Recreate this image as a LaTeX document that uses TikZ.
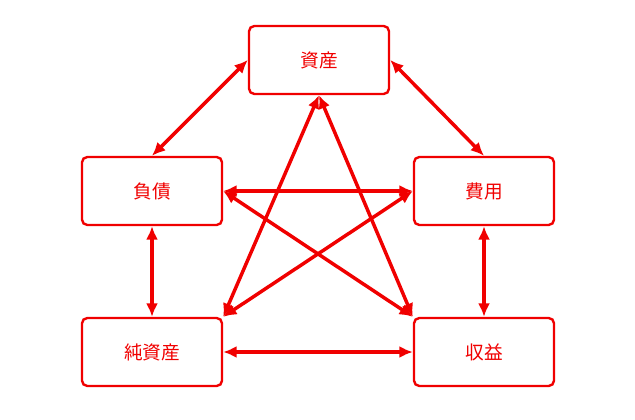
\documentclass[tikz,border=0pt]{standalone}
\usepackage{fontspec}
\setmainfont{Noto Sans CJK JP}
\usetikzlibrary{arrows.meta}
\definecolor{acred}{RGB}{240,0,0}
\begin{document}
\begin{tikzpicture}[x=0.75pt,y=-0.75pt]
        \tikzstyle{account} = [rectangle, rounded corners=4pt, draw=acred, line width=1.8pt, text=acred, font=\fontsize{14}{16}\selectfont, minimum width=105pt, minimum height=51pt]
        \tikzstyle{line} = [{Latex[length=10pt,width=9pt]}-{Latex[length=10pt,width=9pt]},draw=acred,line width=2.6pt]
        \useasboundingbox (0,0) rectangle (635,420);
        \node[account] (asset) at (319,60) {資産};
        \node[account] (liab) at (152,191) {負債};
        \node[account] (exp) at (484,191) {費用};
        \node[account] (equity) at (152,352) {純資産};
        \node[account] (rev) at (484,352) {収益};
        \draw[line] (asset.west) to (liab.north);
        \draw[line] (asset.east) to (exp.north);
        \draw[line] (liab.east) to (exp.west);
        \draw[line] (liab.south) to (equity.north);
        \draw[line] (exp.south) to (rev.north);
        \draw[line] (equity.east) to (rev.west);
        \draw[line] (asset.south) to (equity.north east);
        \draw[line] (asset.south) to (rev.north west);
        \draw[line] (liab.east) to (rev.north west);
        \draw[line] (exp.west) to (equity.north east);
\end{tikzpicture}
\end{document}
